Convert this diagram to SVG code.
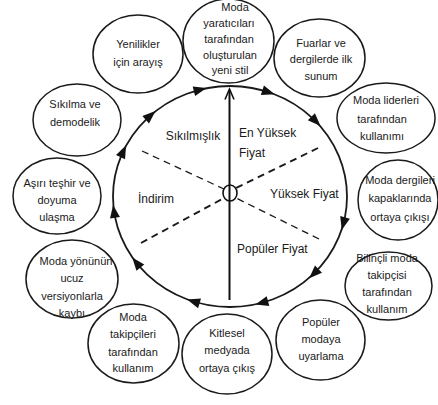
<svg xmlns="http://www.w3.org/2000/svg" width="438" height="405" viewBox="0 0 438 405">
<style>
.node ellipse{fill:#fff;stroke:#1a1a1a;stroke-width:1.5}
.nt{font-family:"Liberation Sans",Arial,sans-serif;font-size:11px;fill:#1a1a1a;text-anchor:middle;dominant-baseline:central}
.lt{font-family:"Liberation Sans",Arial,sans-serif;font-size:12px;fill:#1a1a1a;dominant-baseline:central}
.ring{fill:none;stroke:#1a1a1a;stroke-width:1.8}
.dash{stroke:#1a1a1a;stroke-dasharray:7 5;fill:none}
.ah{fill:#111}
</style>
<rect width="438" height="405" fill="#fff"/>
<g id="connectors">
<ellipse class="ring" cx="230" cy="196.5" rx="117" ry="110.5"/>
<polygon class="ah" points="7,0 -6,-5 -6,5" transform="translate(199.7,89.8) rotate(-14.2)"/>
<polygon class="ah" points="7,0 -6,-5 -6,5" transform="translate(268.1,92) rotate(18)"/>
<polygon class="ah" points="7,0 -6,-5 -6,5" transform="translate(315.6,121.1) rotate(45.4)"/>
<polygon class="ah" points="7,0 -6,-5 -6,5" transform="translate(343.5,223.2) rotate(104.8)"/>
<polygon class="ah" points="7,0 -6,-5 -6,5" transform="translate(314.2,273.3) rotate(135.6)"/>
<polygon class="ah" points="7,0 -6,-5 -6,5" transform="translate(262.2,302.7) rotate(164.8)"/>
<polygon class="ah" points="7,0 -6,-5 -6,5" transform="translate(193.8,301.6) rotate(197)"/>
<polygon class="ah" points="7,0 -6,-5 -6,5" transform="translate(136.6,263) rotate(231.4)"/>
<polygon class="ah" points="7,0 -6,-5 -6,5" transform="translate(114.1,211.9) rotate(261.5)"/>
<polygon class="ah" points="7,0 -6,-5 -6,5" transform="translate(123.1,151.6) rotate(-64.7)"/>
<polygon class="ah" points="7,0 -6,-5 -6,5" transform="translate(150.2,115.7) rotate(-41.4)"/>
<line x1="229.5" y1="300" x2="229.5" y2="90" stroke="#111" stroke-width="2"/>
<polyline points="225,99.5 229.5,89 234,99.5" fill="none" stroke="#111" stroke-width="1.6"/>
<line class="dash" x1="142" y1="151" x2="224" y2="189" stroke-width="1.3"/>
<line class="dash" x1="141" y1="243" x2="224" y2="198" stroke-width="1.9"/>
<line class="dash" x1="318" y1="148" x2="236" y2="188" stroke-width="1.9"/>
<line class="dash" x1="319" y1="239" x2="236" y2="198" stroke-width="1.3"/>
<ellipse cx="230" cy="193" rx="7" ry="8" fill="none" stroke="#111" stroke-width="1.6"/>
</g>
<g id="labels">
<text class="lt" x="193" y="136" text-anchor="middle">Sıkılmışlık</text>
<text class="lt" x="239" y="133">En Yüksek</text>
<text class="lt" x="239" y="153">Fiyat</text>
<text class="lt" x="270" y="194">Yüksek Fiyat</text>
<text class="lt" x="237" y="249">Popüler Fiyat</text>
<text class="lt" x="138" y="199">İndirim</text>
</g>
<g id="n1" class="node"><ellipse cx="228.5" cy="41" rx="45.5" ry="42"/>
<text class="nt" x="235" y="7">Moda</text><text class="nt" x="229" y="23">yaratıcıları</text><text class="nt" x="229" y="39">tarafından</text><text class="nt" x="230" y="54.5">oluşturulan</text><text class="nt" x="230" y="70">yeni stil</text></g>
<g id="n2" class="node"><ellipse cx="138" cy="54" rx="45" ry="39"/>
<text class="nt" x="138" y="44">Yenilikler</text><text class="nt" x="138" y="62">için arayış</text></g>
<g id="n3" class="node"><ellipse cx="77" cy="120" rx="44" ry="36"/>
<text class="nt" x="75" y="104">Sıkılma ve</text><text class="nt" x="75" y="122">demodelik</text></g>
<g id="n4" class="node"><ellipse cx="57" cy="196" rx="44" ry="38"/>
<text class="nt" x="57" y="183">Aşırı teşhir ve</text><text class="nt" x="57" y="200">doyuma</text><text class="nt" x="57" y="217">ulaşma</text></g>
<g id="n5" class="node"><ellipse cx="72" cy="279" rx="46" ry="39"/>
<text class="nt" x="76" y="261">Moda yönünün</text><text class="nt" x="72" y="278">ucuz</text><text class="nt" x="72" y="296">versiyonlarla</text><text class="nt" x="72" y="313">kaybı</text></g>
<g id="n6" class="node"><ellipse cx="133.5" cy="343.5" rx="45.5" ry="39.5"/>
<text class="nt" x="133" y="317">Moda</text><text class="nt" x="133" y="334">takipçileri</text><text class="nt" x="133" y="352">tarafından</text><text class="nt" x="133" y="368">kullanım</text></g>
<g id="n7" class="node"><ellipse cx="227" cy="354" rx="45" ry="40"/>
<text class="nt" x="227" y="333">Kitlesel</text><text class="nt" x="227" y="350">medyada</text><text class="nt" x="227" y="368">ortaya çıkış</text></g>
<g id="n8" class="node"><ellipse cx="320.5" cy="340" rx="44.5" ry="40"/>
<text class="nt" x="321" y="322">Popüler</text><text class="nt" x="321" y="339">modaya</text><text class="nt" x="321" y="356">uyarlama</text></g>
<g id="n9" class="node"><ellipse cx="388.5" cy="286" rx="43.5" ry="34"/>
<text class="nt" x="387" y="258">Bilinçli moda</text><text class="nt" x="387" y="275">takipçisi</text><text class="nt" x="387" y="292">tarafından</text><text class="nt" x="387" y="309">kullanım</text></g>
<g id="n10" class="node"><ellipse cx="398" cy="200" rx="40" ry="40"/>
<text class="nt" x="400" y="180">Moda dergileri</text><text class="nt" x="400" y="198">kapaklarında</text><text class="nt" x="400" y="217">ortaya çıkışı</text></g>
<g id="n11" class="node"><ellipse cx="386" cy="118" rx="49" ry="35"/>
<text class="nt" x="386" y="100">Moda liderleri</text><text class="nt" x="382" y="119">tarafından</text><text class="nt" x="382" y="136">kullanımı</text></g>
<g id="n12" class="node"><ellipse cx="319.5" cy="58" rx="45.5" ry="39"/>
<text class="nt" x="321" y="43">Fuarlar ve</text><text class="nt" x="321" y="59">dergilerde ilk</text><text class="nt" x="321" y="76">sunum</text></g>
</svg>
